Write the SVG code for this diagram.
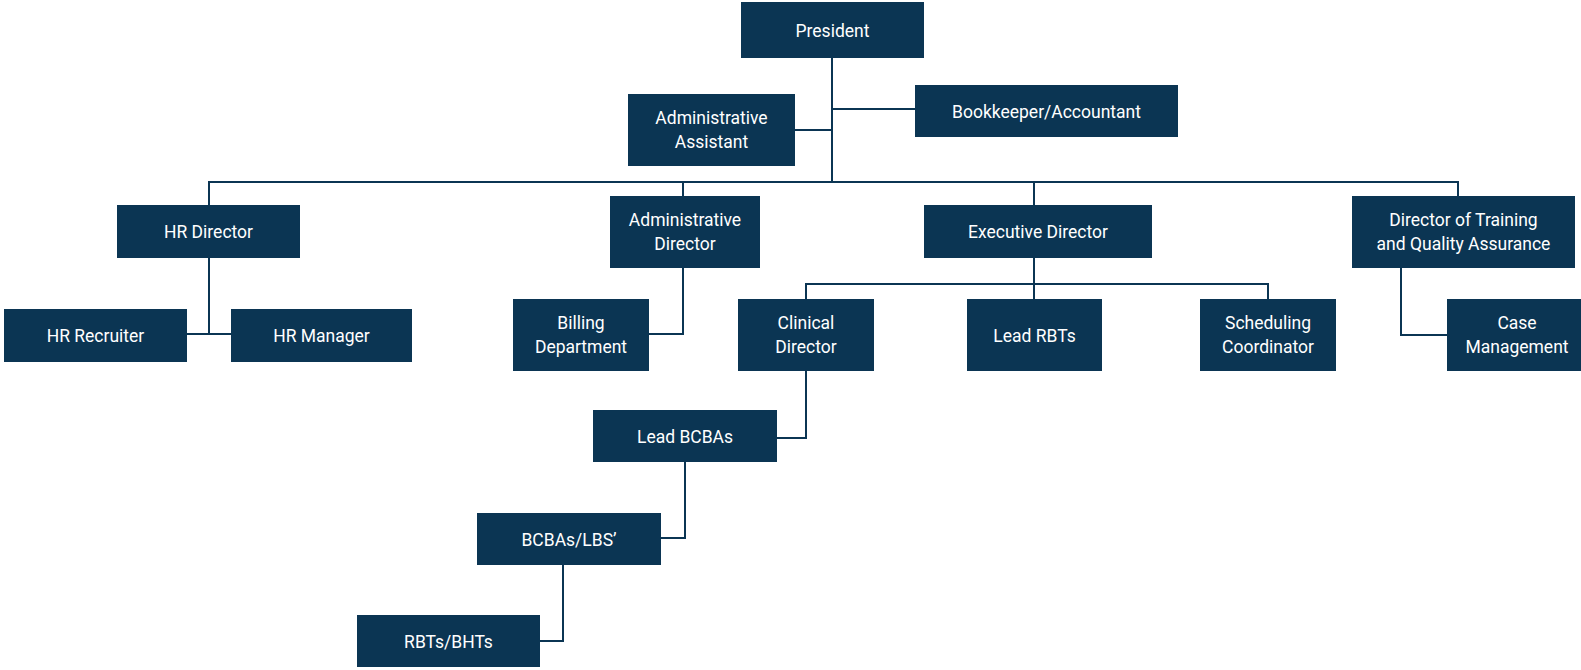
<svg xmlns="http://www.w3.org/2000/svg" width="1581" height="670" viewBox="0 0 1581 670">
<style>
.box{fill:#0b3553}
.t{fill:#ffffff;font-family:Roboto,"Liberation Sans",sans-serif;font-size:17.5px;text-anchor:middle}
.c{fill:none;stroke:#0b3553;stroke-width:2}
</style>
<rect width="1581" height="670" fill="#ffffff"/>
<g id="connectors">
<path class="c" d="M832,58V182M795,130H832M832,109H915"/>
<path class="c" d="M209,205V182H1458V196M683,182V196M1034,182V205"/>
<path class="c" d="M209,258V334M187,334H231"/>
<path class="c" d="M683,268V334H649"/>
<path class="c" d="M1034,258V284M806,299V284H1268V299M1034,284V299"/>
<path class="c" d="M1401,268V335H1447"/>
<path class="c" d="M806,371V438H777"/>
<path class="c" d="M685,462V538H661"/>
<path class="c" d="M563,565V641H540"/>
</g>
<g id="president"><rect class="box" x="741" y="2" width="183" height="56"/><text class="t" x="832.5" y="37">President</text></g>
<g id="admin-assistant"><rect class="box" x="628" y="94" width="167" height="72"/><text class="t" x="711.5" y="123.5">Administrative</text><text class="t" x="711.5" y="147.5">Assistant</text></g>
<g id="bookkeeper"><rect class="box" x="915" y="85" width="263" height="52"/><text class="t" x="1046.5" y="117.5">Bookkeeper/Accountant</text></g>
<g id="hr-director"><rect class="box" x="117" y="205" width="183" height="53"/><text class="t" x="208.5" y="238">HR Director</text></g>
<g id="hr-recruiter"><rect class="box" x="4" y="309" width="183" height="53"/><text class="t" x="95.5" y="342">HR Recruiter</text></g>
<g id="hr-manager"><rect class="box" x="231" y="309" width="181" height="53"/><text class="t" x="321.5" y="342">HR Manager</text></g>
<g id="admin-director"><rect class="box" x="610" y="196" width="150" height="72"/><text class="t" x="685" y="225.5">Administrative</text><text class="t" x="685" y="249.5">Director</text></g>
<g id="billing"><rect class="box" x="513" y="299" width="136" height="72"/><text class="t" x="581" y="328.5">Billing</text><text class="t" x="581" y="352.5">Department</text></g>
<g id="executive-director"><rect class="box" x="924" y="205" width="228" height="53"/><text class="t" x="1038" y="238">Executive Director</text></g>
<g id="clinical-director"><rect class="box" x="738" y="299" width="136" height="72"/><text class="t" x="806" y="328.5">Clinical</text><text class="t" x="806" y="352.5">Director</text></g>
<g id="lead-rbts"><rect class="box" x="967" y="299" width="135" height="72"/><text class="t" x="1034.5" y="342">Lead RBTs</text></g>
<g id="scheduling"><rect class="box" x="1200" y="299" width="136" height="72"/><text class="t" x="1268" y="328.5">Scheduling</text><text class="t" x="1268" y="352.5">Coordinator</text></g>
<g id="director-training"><rect class="box" x="1352" y="196" width="223" height="72"/><text class="t" x="1463.5" y="225.5">Director of Training</text><text class="t" x="1463.5" y="249.5">and Quality Assurance</text></g>
<g id="case-management"><rect class="box" x="1447" y="299" width="140" height="72"/><text class="t" x="1517" y="328.5">Case</text><text class="t" x="1517" y="352.5">Management</text></g>
<g id="lead-bcbas"><rect class="box" x="593" y="410" width="184" height="52"/><text class="t" x="685" y="443">Lead BCBAs</text></g>
<g id="bcbas-lbs"><rect class="box" x="477" y="513" width="184" height="52"/><text class="t" x="569" y="546">BCBAs/LBS’</text></g>
<g id="rbts-bhts"><rect class="box" x="357" y="615" width="183" height="52"/><text class="t" x="448.5" y="648">RBTs/BHTs</text></g>
</svg>
